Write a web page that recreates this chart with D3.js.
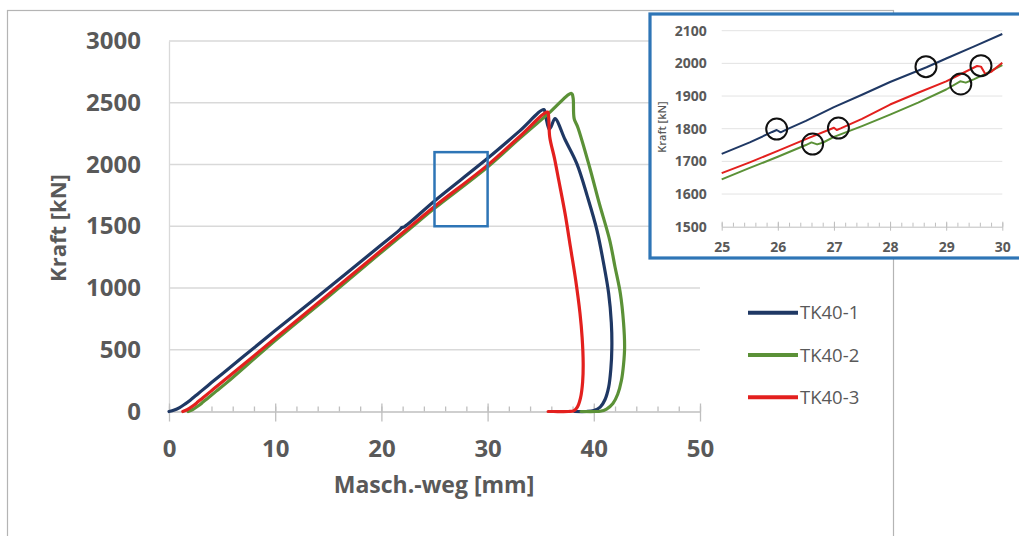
<!DOCTYPE html>
<html>
<head>
<meta charset="utf-8">
<script src="https://cdn.jsdelivr.net/npm/d3@7"></script>
<style>
  body { margin: 0; background: #fff; }
  text { font-family: "Open Sans", "Noto Sans", sans-serif; fill: #595959; }
</style>
</head>
<body>
<script>
// Series names and colours
var seriesNames = ["TK40-1", "TK40-2", "TK40-3"];
var seriesColors = ["#1f3864", "#5b9137", "#e3201e"];

// Main curves [Masch.-weg mm, Kraft kN]
var tk1 = [[0,0],[0.5,12],[1,32],[1.5,60],[2,92],[2.5,127],[3,163],[4,234],[5,304],[7,445],[10,655],[15,1000],[20,1350],
  [21.8,1478],[21.9,1490],[22.1,1493],[25,1705],[30,2050],[33,2270],[35.3,2445],[35.45,2400],[35.8,2285],[36,2310],
  [36.35,2372],[37.3,2200],[38.4,2007],[39.4,1740],[40.3,1467],[40.9,1210],[41.4,956],[41.65,720],
  [41.7,519],[41.6,340],[41.4,197],[41.05,95],[40.6,35],[40,8],[39.3,0],[38.2,0]];
var tk2 = [[1.8,0],[2.2,14],[2.7,42],[3.2,76],[3.7,112],[4.5,168],[5.5,238],[10,575],[15,930],[20,1290],[22.6,1474],
  [25,1645],[30,1980],[33,2210],[35.7,2410],[37.9,2575],[38.05,2540],[38.15,2372],[38.5,2300],[39.6,1980],[40.5,1690],
  [41.5,1386],[42,1170],[42.5,956],[42.8,720],[42.9,519],[42.8,380],[42.6,251],[42.25,140],[41.8,65],[41.2,20],
  [40.6,2],[40.2,0],[38.8,0]];
var tk3 = [[1.3,0],[1.7,14],[2.2,42],[2.7,76],[3.2,112],[4,168],[5,238],[10,593],[15,948],[20,1305],[22.4,1475],
  [25,1660],[30,1995],[33,2225],[35.65,2425],[35.75,2380],[35.85,2223],[36.3,2050],[36.7,1872],[37.3,1600],
  [37.8,1331],[38.3,1060],[38.7,794],[38.9,600],[39,389],[38.95,240],[38.75,110],[38.45,35],[38.1,5],[37.6,0],
  [36.2,0],[35.7,0]];

// Inset (detail 25-30 mm)
var tk1Detail = [[25,1723],[25.5,1758],[25.9,1790],[25.98,1796],[26.05,1789],[26.15,1797],[26.5,1824],[27,1866],
  [27.5,1904],[28,1943],[28.65,1988],[29,2015],[29.5,2052],[30,2090]];
var tk2Detail = [[25,1645],[25.5,1680],[26,1714],[26.5,1750],[26.6,1758],[26.7,1752],[26.8,1757],[27,1775],
  [27.5,1808],[28,1843],[28.5,1880],[29,1920],[29.25,1945],[29.35,1941],[29.5,1952],[29.7,1968],[30,1995]];
var tk3Detail = [[25,1664],[25.5,1697],[26,1732],[26.5,1768],[27,1803],[27.05,1796],[27.12,1801],[27.5,1830],
  [28,1874],[28.5,1910],[29,1945],[29.55,1992],[29.62,1990],[29.7,1967],[29.8,1974],[30,2002]];
var circles = [[25.98,1799],[26.62,1753],[27.08,1802],[28.64,1990],[29.26,1937],[29.62,1993]];

// Tick values
var xTicks = [0, 10, 20, 30, 40, 50];
var yTicks = [0, 500, 1000, 1500, 2000, 2500, 3000];
var insetXTicks = [25, 26, 27, 28, 29, 30];
var insetYTicks = [1500, 1600, 1700, 1800, 1900, 2000, 2100];
var zoomBox = [[25, 1500], [30, 2100]];

var svg = d3.select("body").append("svg")
    .attr("width", 1019)
    .attr("height", 536);

// outer frame
svg.append("rect")
  .attr("x", 7.5).attr("y", 10.5)
  .attr("width", 886).attr("height", 560)
  .attr("fill", "none").attr("stroke", "#b4b4b4").attr("stroke-width", 1.2);

var x = d3.scaleLinear().domain([0, 50]).range([169, 700]);
var y = d3.scaleLinear().domain([0, 3000]).range([411.5, 41]);
var fmt = d3.format("d");

// gridlines
svg.append("g").selectAll("line")
  .data(yTicks.slice(1)).enter().append("line")
  .attr("x1", x(0)).attr("x2", x(50))
  .attr("y1", function(d){ return y(d); }).attr("y2", function(d){ return y(d); })
  .attr("stroke", "#d9d9d9").attr("stroke-width", 1.3);

// y axis
var yAxis = svg.append("g")
  .attr("transform", "translate(" + x(0) + ",0)")
  .call(d3.axisLeft(y).tickValues(yTicks).tickFormat(fmt).tickSize(0).tickPadding(28));
yAxis.select(".domain").attr("stroke", "#d9d9d9").attr("stroke-width", 1.3);
yAxis.selectAll("text")
  .style("font-size", "24px").style("font-weight", "bold").attr("fill", "#595959");

// x axis minor ticks
svg.append("g")
  .attr("transform", "translate(0," + y(0) + ")")
  .call(d3.axisTop(x).ticks(25).tickSize(5).tickFormat(""))
  .call(function(g){
    g.select(".domain").remove();
    g.selectAll("line").attr("stroke", "#bfbfbf").attr("stroke-width", 1.3);
  });

// x axis
var xAxis = svg.append("g")
  .attr("transform", "translate(0," + y(0) + ")")
  .call(d3.axisBottom(x).tickValues(xTicks).tickFormat(fmt).tickSizeOuter(0).tickPadding(22));
xAxis.select(".domain").attr("stroke", "#bfbfbf").attr("stroke-width", 1.3);
xAxis.selectAll(".tick line")
  .attr("y1", -8).attr("y2", 10)
  .attr("stroke", "#bfbfbf").attr("stroke-width", 1.3);
xAxis.selectAll("text")
  .style("font-size", "24px").style("font-weight", "bold").attr("fill", "#595959");

// axis titles
svg.append("text")
  .attr("x", 434).attr("y", 493)
  .attr("text-anchor", "middle")
  .style("font-size", "23px").style("font-weight", "bold")
  .text("Masch.-weg [mm]");

svg.append("text")
  .attr("transform", "translate(66,228) rotate(-90)")
  .attr("text-anchor", "middle")
  .style("font-size", "22px").style("font-weight", "bold")
  .text("Kraft [kN]");

// curves
var line = d3.line()
  .curve(d3.curveCatmullRom.alpha(0.5))
  .x(function(d){ return x(d[0]); })
  .y(function(d){ return y(d[1]); });

[tk1, tk2, tk3].forEach(function(s, i){
  svg.append("path")
    .datum(s)
    .attr("fill", "none")
    .attr("stroke", seriesColors[i])
    .attr("stroke-width", 3.2)
    .attr("stroke-linejoin", "round")
    .attr("stroke-linecap", "round")
    .attr("d", line);
});

// zoom rectangle
svg.append("rect")
  .attr("x", x(zoomBox[0][0])).attr("y", y(zoomBox[1][1]))
  .attr("width", x(zoomBox[1][0]) - x(zoomBox[0][0]))
  .attr("height", y(zoomBox[0][1]) - y(zoomBox[1][1]))
  .attr("fill", "none").attr("stroke", "#2e75b6").attr("stroke-width", 2.5);

// legend
var legend = svg.append("g").selectAll("g")
  .data(seriesNames).enter().append("g")
  .attr("transform", function(d, i){ return "translate(748," + (312.7 + i * 42.3) + ")"; });
legend.append("line")
  .attr("x1", 0).attr("x2", 50)
  .attr("stroke", function(d, i){ return seriesColors[i]; })
  .attr("stroke-width", 4);
legend.append("text")
  .attr("x", 52).attr("dy", "0.36em")
  .style("font-size", "18.5px")
  .text(function(d){ return d; });

// inset
var inset = svg.append("g");
inset.append("rect")
  .attr("x", 650).attr("y", 14)
  .attr("width", 400).attr("height", 244)
  .attr("fill", "#fff").attr("stroke", "#2e75b6").attr("stroke-width", 3.2);

var ix = d3.scaleLinear().domain([25, 30]).range([721.7, 1002.3]);
var iy = d3.scaleLinear().domain([1500, 2100]).range([226.7, 30.7]);

inset.append("g").selectAll("line")
  .data(insetYTicks.slice(1)).enter().append("line")
  .attr("x1", ix(25)).attr("x2", ix(30))
  .attr("y1", function(d){ return iy(d); }).attr("y2", function(d){ return iy(d); })
  .attr("stroke", "#e3e3e3").attr("stroke-width", 1);

var iyAxis = inset.append("g")
  .attr("transform", "translate(" + ix(25) + ",0)")
  .call(d3.axisLeft(iy).tickValues(insetYTicks).tickFormat(fmt).tickSize(0).tickPadding(15));
iyAxis.select(".domain").remove();
iyAxis.selectAll("text").style("font-size", "14px").style("font-weight", "bold").attr("fill", "#595959");

inset.append("g")
  .attr("transform", "translate(0," + iy(1500) + ")")
  .call(d3.axisTop(ix).ticks(25).tickSize(4).tickFormat(""))
  .call(function(g){
    g.select(".domain").remove();
    g.selectAll("line").attr("stroke", "#bfbfbf");
  });

var ixAxis = inset.append("g")
  .attr("transform", "translate(0," + iy(1500) + ")")
  .call(d3.axisBottom(ix).tickValues(insetXTicks).tickFormat(fmt).tickSizeOuter(0).tickPadding(9));
ixAxis.select(".domain").attr("stroke", "#bfbfbf");
ixAxis.selectAll(".tick line").attr("y1", -5).attr("y2", 4).attr("stroke", "#bfbfbf");
ixAxis.selectAll("text").style("font-size", "14px").style("font-weight", "bold").attr("fill", "#595959");

inset.append("text")
  .attr("transform", "translate(666,127) rotate(-90)")
  .attr("text-anchor", "middle")
  .style("font-size", "11px").style("font-weight", 600)
  .text("Kraft [kN]");

var iline = d3.line()
  .x(function(d){ return ix(d[0]); })
  .y(function(d){ return iy(d[1]); });

[tk1Detail, tk2Detail, tk3Detail].forEach(function(s, i){
  inset.append("path")
    .datum(s)
    .attr("fill", "none")
    .attr("stroke", seriesColors[i])
    .attr("stroke-width", 2)
    .attr("stroke-linejoin", "round")
    .attr("d", iline);
});

inset.append("g").selectAll("circle")
  .data(circles).enter().append("circle")
  .attr("cx", function(d){ return ix(d[0]); })
  .attr("cy", function(d){ return iy(d[1]); })
  .attr("r", 10.5)
  .attr("fill", "none").attr("stroke", "#111").attr("stroke-width", 2);
</script>
</body>
</html>
